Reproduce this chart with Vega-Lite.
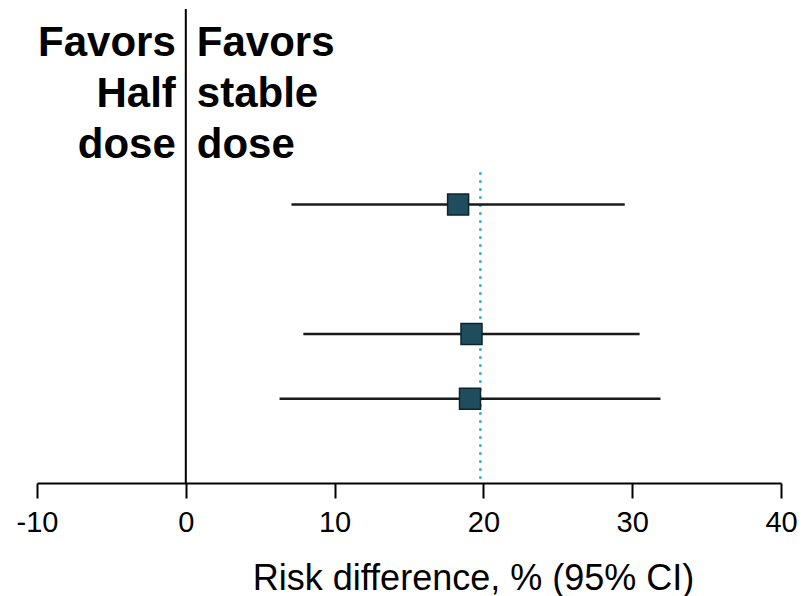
{
  "$schema": "https://vega.github.io/schema/vega-lite/v6.json",
  "width": 744,
  "height": 474,
  "autosize": {"type": "none"},
  "padding": {"left": 37, "top": 9, "right": 26, "bottom": 113},
  "background": "white",
  "config": {"view": {"stroke": null}, "font": "Liberation Sans"},
  "datasets": {
    "studies": [
      {"row": 1, "est": 18.3, "lo": 7.1, "hi": 29.5},
      {"row": 3, "est": 19.2, "lo": 7.9, "hi": 30.5},
      {"row": 4, "est": 19.1, "lo": 6.3, "hi": 31.9}
    ],
    "labels": [
      {"x": 0, "row": -1.3, "side": "left", "label": "Favors|Half|dose"},
      {"x": 0, "row": -1.3, "side": "right", "label": "Favors|stable|dose"}
    ],
    "zero": [{"x": 0}],
    "pooled": [{"x": 19.8, "y1": 0.5, "y2": 5.3}]
  },
  "layer": [
    {
      "data": {"name": "zero"},
      "mark": {"type": "rule", "color": "black", "strokeWidth": 2},
      "encoding": {
        "x": {
          "field": "x", "type": "quantitative",
          "scale": {"domain": [-10, 40], "nice": false, "zero": false},
          "axis": {
            "values": [-10, 0, 10, 20, 30, 40],
            "labelExpr": "'' + datum.value",
            "labelFlush": false,
            "labelOverlap": false,
            "grid": false,
            "domainColor": "black", "domainWidth": 2,
            "tickColor": "black", "tickWidth": 2, "tickSize": 15,
            "labelFontSize": 29, "labelColor": "black", "labelPadding": 10,
            "labelFont": "Liberation Sans",
            "title": "Risk difference, % (95% CI)",
            "titleFontSize": 36, "titleFontWeight": "normal", "titleColor": "black",
            "titleFont": "Liberation Sans",
            "titleX": 436, "titleY": 106, "titleBaseline": "alphabetic", "titleAlign": "center"
          }
        }
      }
    },
    {
      "data": {"name": "pooled"},
      "mark": {"type": "rule", "color": "#2aa3e6", "strokeWidth": 2.5, "strokeDash": [2.5, 5.5]},
      "encoding": {
        "x": {"field": "x", "type": "quantitative"},
        "y": {"field": "y1", "type": "quantitative", "scale": {"domain": [-2.02, 5.3], "reverse": true, "nice": false, "zero": false}, "axis": null},
        "y2": {"field": "y2"}
      }
    },
    {
      "data": {"name": "studies"},
      "mark": {"type": "rule", "color": "#1a1a1a", "strokeWidth": 2.5},
      "encoding": {
        "x": {"field": "lo", "type": "quantitative"},
        "x2": {"field": "hi"},
        "y": {"field": "row", "type": "quantitative"}
      }
    },
    {
      "data": {"name": "studies"},
      "mark": {"type": "point", "shape": "square", "filled": true, "size": 441, "color": "#1f4d5e", "stroke": "#0c2430", "strokeWidth": 1.5, "opacity": 1},
      "encoding": {
        "x": {"field": "est", "type": "quantitative"},
        "y": {"field": "row", "type": "quantitative"}
      }
    },
    {
      "data": {"name": "labels"},
      "transform": [{"filter": "datum.side === 'left'"}],
      "mark": {"type": "text", "align": "right", "baseline": "alphabetic", "dx": -10, "fontSize": 42, "fontWeight": "bold", "lineBreak": "|", "lineHeight": 51, "color": "black", "font": "Liberation Sans"},
      "encoding": {
        "x": {"field": "x", "type": "quantitative"},
        "y": {"field": "row", "type": "quantitative"},
        "text": {"field": "label"}
      }
    },
    {
      "data": {"name": "labels"},
      "transform": [{"filter": "datum.side === 'right'"}],
      "mark": {"type": "text", "align": "left", "baseline": "alphabetic", "dx": 11, "fontSize": 42, "fontWeight": "bold", "lineBreak": "|", "lineHeight": 51, "color": "black", "font": "Liberation Sans"},
      "encoding": {
        "x": {"field": "x", "type": "quantitative"},
        "y": {"field": "row", "type": "quantitative"},
        "text": {"field": "label"}
      }
    }
  ]
}
